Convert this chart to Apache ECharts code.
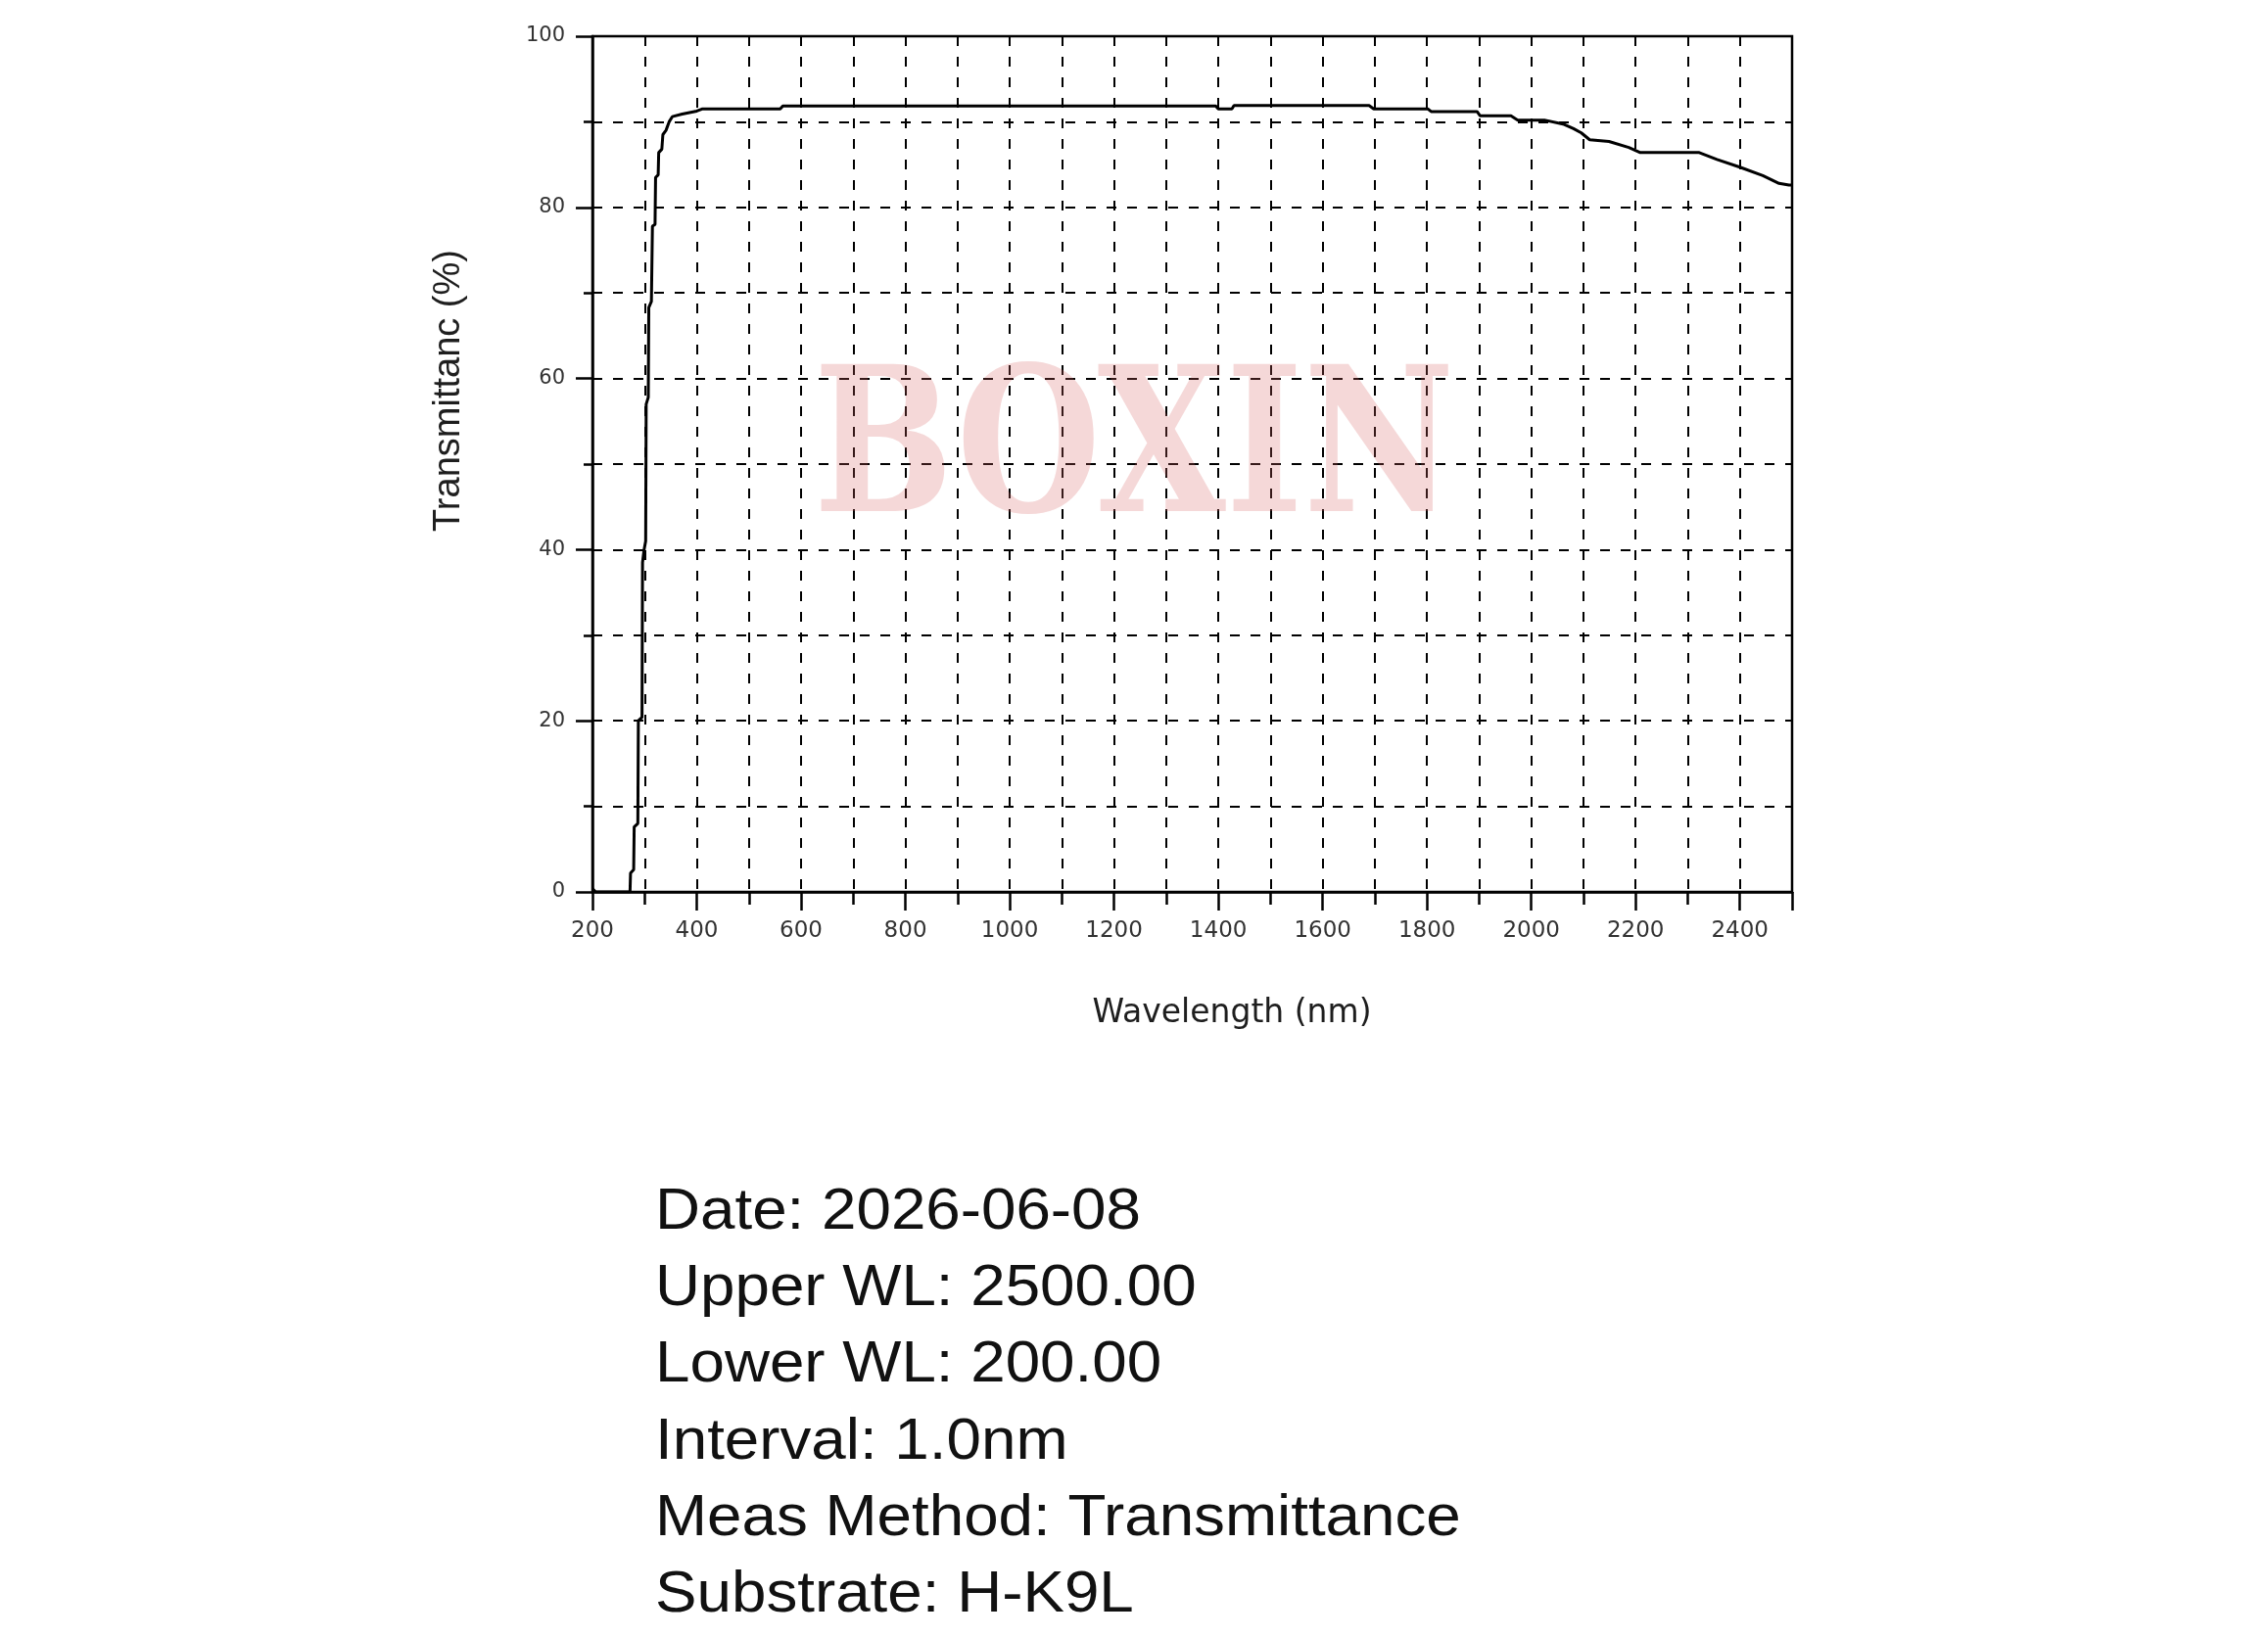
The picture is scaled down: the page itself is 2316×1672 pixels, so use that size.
<!DOCTYPE html>
<html>
<head>
<meta charset="utf-8">
<script src="https://cdn.jsdelivr.net/npm/echarts@6/dist/echarts.min.js"></script>
<style>
html,body{margin:0;padding:0;background:#fff;}
#chart{width:2316px;height:1672px;}
</style>
</head>
<body>
<div id="chart"></div>
<script>
// ---- data ----
const wavelength = [200, 206, 272, 273, 279, 280, 287, 288, 295, 296, 299, 302, 303, 307, 308, 313, 315, 320, 321, 326, 327, 333, 335, 341, 347, 353, 372, 400, 410, 560, 565, 1395, 1400, 1426, 1430, 1689, 1698, 1802, 1808, 1896, 1902, 1961, 1974, 2025, 2063, 2081, 2096, 2112, 2149, 2187, 2209, 2322, 2356, 2400, 2444, 2475, 2494, 2500];
const transmittance = [0.4, 0, 0, 2.2, 2.6, 7.6, 8.0, 20.0, 20.4, 38.5, 40.0, 41.0, 57.0, 57.8, 68.3, 69.0, 77.8, 78.0, 83.5, 83.8, 86.4, 86.8, 88.5, 89.0, 90.0, 90.6, 90.9, 91.25, 91.5, 91.5, 91.85, 91.85, 91.5, 91.5, 91.9, 91.9, 91.5, 91.5, 91.2, 91.2, 90.7, 90.7, 90.2, 90.2, 89.7, 89.2, 88.7, 87.9, 87.7, 87.0, 86.4, 86.4, 85.6, 84.7, 83.7, 82.8, 82.6, 82.6];
const xAxisTitle = 'Wavelength (nm)';
const yAxisTitle = 'Transmittanc (%)';
const watermark = 'BOXIN';
const infoLines = ['Date: 2026-06-08', 'Upper WL: 2500.00', 'Lower WL: 200.00', 'Interval: 1.0nm', 'Meas Method: Transmittance', 'Substrate: H-K9L'];

const points = wavelength.map((w, i) => [w, transmittance[i]]);

const chart = echarts.init(document.getElementById('chart'), null, {renderer: 'canvas'});
const black = '#000';
const dash = {color: black, width: 2, type: [10, 11]};

const graphics = [
  {type: 'text', x: 459, y: 399, rotation: Math.PI / 2, z: 50,
   style: {text: yAxisTitle, font: '38px "Liberation Sans"', fill: '#1e1e1e', align: 'center', verticalAlign: 'middle', textAlign: 'center', textVerticalAlign: 'middle'}},
  {type: 'text', x: 1258, y: 1035, z: 50,
   style: {text: xAxisTitle, font: '33px "DejaVu Sans"', fill: '#1e1e1e', align: 'center', verticalAlign: 'middle', textAlign: 'center', textVerticalAlign: 'middle'}},
  {type: 'text', x: 1158, y: 468, scaleX: 0.82, z: 100,
   style: {text: watermark, font: 'bold 206px "DejaVu Serif"', fill: 'rgba(215,100,100,0.25)', align: 'center', verticalAlign: 'middle', textAlign: 'center', textVerticalAlign: 'middle'}}
];
infoLines.forEach((t, i) => {
  graphics.push({type: 'text', x: 669, y: 1239 + i * 78.1, scaleX: 1.08, z: 50,
    style: {text: t, font: '59px "Liberation Sans"', fill: '#111', align: 'left', verticalAlign: 'middle', textAlign: 'left', textVerticalAlign: 'middle'}});
});

const option = {
  animation: false,
  backgroundColor: '#fff',
  grid: {left: 605, top: 37, right: 486, bottom: 761, show: true, borderColor: black, borderWidth: 2.5, backgroundColor: 'transparent', outerBoundsMode: 'none', containLabel: false},
  xAxis: [
    {type: 'value', min: 200, max: 2500, interval: 100, position: 'bottom',
     axisLine: {show: true, onZero: false, lineStyle: {color: black, width: 2.5}},
     axisTick: {show: true, length: 13, lineStyle: {color: black, width: 2.5}},
     axisLabel: {show: false},
     splitLine: {show: true, lineStyle: dash}},
    {type: 'value', min: 200, max: 2500, interval: 200, position: 'bottom',
     axisLine: {show: false, onZero: false},
     axisTick: {show: true, length: 19, lineStyle: {color: black, width: 2.5}},
     axisLabel: {show: true, margin: 29, fontSize: 23, fontFamily: 'DejaVu Sans', color: '#333',
       formatter: v => (v % 200 === 0 && v < 2500) ? String(v) : ''},
     splitLine: {show: false}}
  ],
  yAxis: [
    {type: 'value', min: 0, max: 100, interval: 10, position: 'left',
     axisLine: {show: true, onZero: false, lineStyle: {color: black, width: 2.5}},
     axisTick: {show: true, length: 9, lineStyle: {color: black, width: 2.5}},
     axisLabel: {show: false},
     splitLine: {show: true, lineStyle: dash}},
    {type: 'value', min: 0, max: 100, interval: 20, position: 'left',
     axisLine: {show: false, onZero: false},
     axisTick: {show: true, length: 17, lineStyle: {color: black, width: 2.5}},
     axisLabel: {show: true, margin: 28, fontSize: 21, fontFamily: 'DejaVu Sans', color: '#333'},
     splitLine: {show: false}}
  ],
  series: [{
    type: 'line', xAxisIndex: 0, yAxisIndex: 0, data: points,
    showSymbol: false, symbol: 'none',
    lineStyle: {color: black, width: 3}, z: 10
  }],
  graphic: {elements: graphics}
};
chart.setOption(option);
</script>
</body>
</html>
